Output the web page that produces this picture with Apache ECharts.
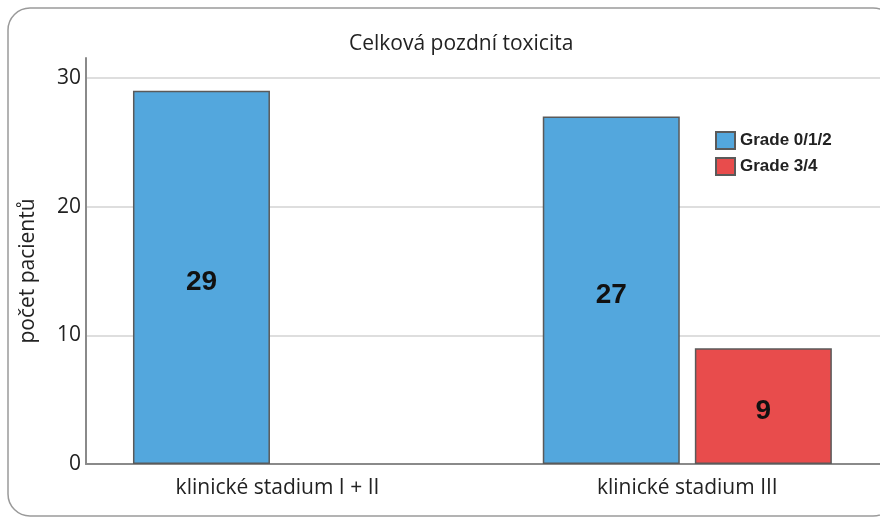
<!DOCTYPE html>
<html>
<head>
<meta charset="utf-8">
<script src="https://cdn.jsdelivr.net/npm/echarts@6/dist/echarts.min.js"></script>
<style>
  html, body { margin: 0; padding: 0; background: #ffffff; }
  #chart { width: 880px; height: 520px; }
</style>
</head>
<body>
<div id="chart"></div>
<script>
// Late toxicity by clinical stage (patient counts)
const categories = ['klinické stadium I + II', 'klinické stadium III'];
const seriesNames = ['Grade 0/1/2', 'Grade 3/4'];
const grade012 = [29, 27];
const grade34 = [0, 9];
const yTicks = [0, 10, 20, 30];

const chart = echarts.init(document.getElementById('chart'), null, { renderer: 'canvas' });

const fontUI = '"Open Sans", "Noto Sans", sans-serif';
const fontBar = '"Liberation Sans", Arial, sans-serif';

// category index used as x position; empty (zero) bars are not drawn
const toPoints = arr => arr.map((v, i) => [i, v]).filter(p => p[1] > 0);

const barLabel = {
  show: true,
  position: 'inside',
  offset: [0, 5],
  formatter: p => p.value[1],
  fontFamily: fontBar,
  fontWeight: 'bold',
  fontSize: 28,
  color: '#111'
};

chart.setOption({
  animation: false,
  backgroundColor: '#ffffff',
  graphic: [{
    type: 'rect',
    shape: { x: 8, y: 8, width: 887, height: 508, r: 22 },
    style: { fill: 'none', stroke: '#9a9a9a', lineWidth: 1.5 },
    silent: true,
    z: -10
  }],
  title: {
    text: 'Celková pozdní toxicita',
    left: 344,
    top: 29,
    textStyle: { fontFamily: fontUI, fontSize: 21, fontWeight: 'normal', color: '#222' }
  },
  legend: {
    orient: 'vertical',
    left: 715,
    top: 131,
    padding: 0,
    itemWidth: 19,
    itemHeight: 17,
    itemGap: 7,
    icon: 'rect',
    data: seriesNames,
    textStyle: { fontFamily: fontBar, fontSize: 17, fontWeight: 'bold', color: '#222' }
  },
  grid: { left: 86, right: 0, top: 58, bottom: 56, containLabel: false },
  xAxis: {
    type: 'value',
    min: -0.4673,
    max: 1.4702,
    axisLine: { show: true, onZero: false, lineStyle: { color: '#8a8a8a', width: 2 } },
    axisTick: { show: false },
    splitLine: { show: false },
    axisLabel: {
      customValues: [0, 1],
      formatter: v => categories[Math.round(v)],
      fontFamily: fontUI,
      fontSize: 21,
      color: '#222',
      margin: 14
    }
  },
  yAxis: {
    type: 'value',
    min: 0,
    max: 31.55,
    interval: 10,
    name: 'počet pacientů',
    nameLocation: 'middle',
    nameGap: 47,
    nameTextStyle: { fontFamily: fontUI, fontSize: 21, color: '#222', padding: [0, 20, 0, 0] },
    axisLine: { show: true, onZero: false, lineStyle: { color: '#8a8a8a', width: 2 } },
    axisTick: { show: false },
    splitLine: { show: true, showMaxLine: false, lineStyle: { color: '#dedede', width: 2 } },
    axisLabel: {
      customValues: yTicks,
      fontFamily: fontUI,
      fontSize: 21,
      color: '#222',
      margin: 5
    }
  },
  series: [
    {
      name: seriesNames[0],
      type: 'bar',
      barWidth: 137,
      barGap: '11%',
      data: toPoints(grade012),
      itemStyle: { color: '#53a7dd', borderColor: '#5a5a5a', borderWidth: 1.5 },
      label: barLabel
    },
    {
      name: seriesNames[1],
      type: 'bar',
      barWidth: 137,
      barGap: '11%',
      data: toPoints(grade34),
      itemStyle: { color: '#e84c4c', borderColor: '#5a5a5a', borderWidth: 1.5 },
      label: barLabel
    }
  ]
});
</script>
</body>
</html>
